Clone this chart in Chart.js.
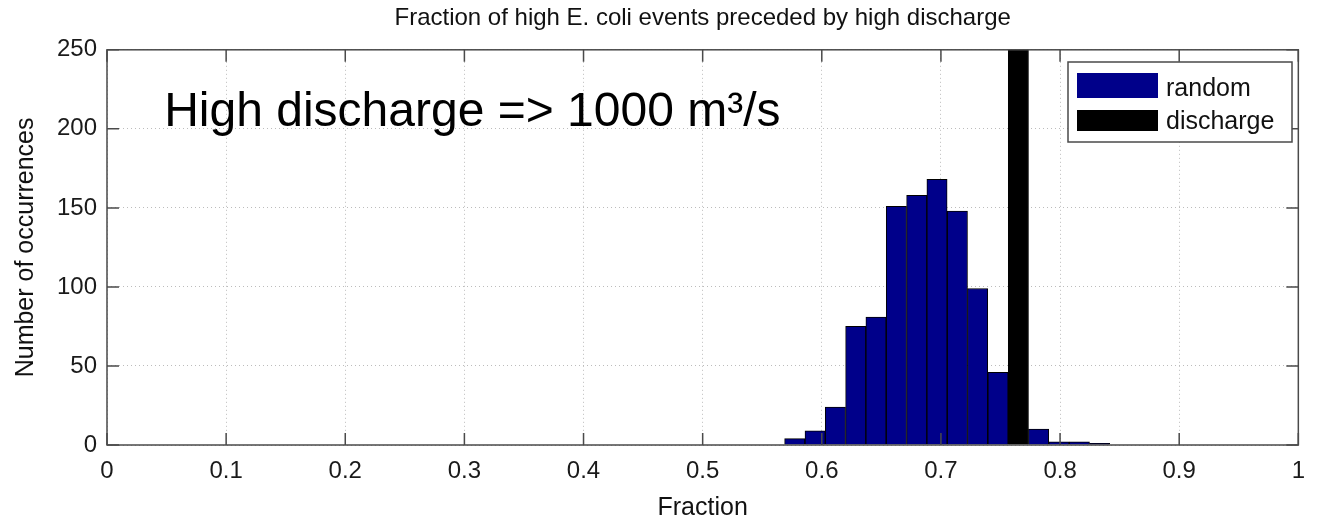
<!DOCTYPE html>
<html>
<head>
<meta charset="utf-8">
<script src="https://cdn.jsdelivr.net/npm/chart.js@4.4.1/dist/chart.umd.min.js"></script>
<style>
	html, body { margin: 0; padding: 0; background: #fff; }
	#wrap { width: 1317px; height: 524px; }
</style>
</head>
<body>
<div id="wrap"><canvas id="histChart" width="1317" height="524"></canvas></div>
<script>
// histogram bins (centre of each bin) and counts of the random runs
const binCenters = [0.5773, 0.5944, 0.6114, 0.6285, 0.6455, 0.6626, 0.6797, 0.6967,
	0.7138, 0.7308, 0.7479, 0.7650, 0.7820, 0.7991, 0.8162, 0.8332];
const randomCounts = [4, 9, 24, 75, 81, 151, 158, 168, 148, 99, 46, null, 10, 2, 2, 1];

// observed fraction for the discharge case (bar runs off the top of the axes)
const dischargeFraction = [0.7650];
const dischargeHeight = [1000];

const xTicks = [0, 0.1, 0.2, 0.3, 0.4, 0.5, 0.6, 0.7, 0.8, 0.9, 1];
const yTicks = [0, 50, 100, 150, 200, 250];

const seriesLabels = ['random', 'discharge'];
const noteText = 'High discharge => 1000 m\u00b3/s';

const FONT = '"Liberation Sans", Arial, Helvetica, sans-serif';

document.addEventListener("DOMContentLoaded", () => {
	initHistChart();
});

// matlab style frame: box, inward ticks, note and boxed legend
const matlabFrame = {
	id: 'matlabFrame',
	afterDraw(chart) {
		const { ctx, chartArea: a, scales } = chart;
		const tick = 12;

		ctx.save();
		ctx.strokeStyle = '#4a4a4a';
		ctx.lineWidth = 1.5;
		ctx.strokeRect(a.left, a.top, a.right - a.left, a.bottom - a.top);

		ctx.beginPath();
		xTicks.forEach(v => {
			const px = scales.x.getPixelForValue(v);
			ctx.moveTo(px, a.bottom); ctx.lineTo(px, a.bottom - tick);
			ctx.moveTo(px, a.top); ctx.lineTo(px, a.top + tick);
		});
		yTicks.forEach(v => {
			const py = scales.y.getPixelForValue(v);
			ctx.moveTo(a.left, py); ctx.lineTo(a.left + tick, py);
			ctx.moveTo(a.right, py); ctx.lineTo(a.right - tick, py);
		});
		ctx.stroke();

		// note inside the axes
		ctx.fillStyle = '#000';
		ctx.font = '48px ' + FONT;
		ctx.textBaseline = 'alphabetic';
		ctx.textAlign = 'left';
		ctx.fillText(noteText, scales.x.getPixelForValue(0.048), scales.y.getPixelForValue(202));

		// legend box, top right
		const lx = 1068, ly = 62, lw = 224, lh = 80;
		ctx.fillStyle = '#fff';
		ctx.fillRect(lx, ly, lw, lh);
		ctx.strokeStyle = '#4a4a4a';
		ctx.lineWidth = 1.5;
		ctx.strokeRect(lx, ly, lw, lh);

		ctx.font = '25px ' + FONT;
		chart.data.datasets.forEach((ds, i) => {
			const sy = i === 0 ? 73 : 110;
			const sh = i === 0 ? 25 : 21;
			ctx.fillStyle = ds.backgroundColor;
			ctx.fillRect(lx + 9, sy, 81, sh);
			ctx.fillStyle = '#111';
			ctx.fillText(ds.label, lx + 98, i === 0 ? 96 : 129);
		});
		ctx.restore();
	}
};

function initHistChart() {
	const ctx = document.getElementById("histChart");

	if (!ctx) return;

	const randomData = [];
	binCenters.forEach((x, i) => {
		if (randomCounts[i] !== null) randomData.push({ x: x, y: randomCounts[i] });
	});
	const dischargeData = dischargeFraction.map((x, i) => ({ x: x, y: dischargeHeight[i] }));

	let chart = new Chart(ctx, {
		type: 'bar',
		data: {
			datasets: [
				{
					label: seriesLabels[0],
					data: randomData,
					backgroundColor: '#00008a',
					borderColor: '#000',
					borderWidth: 1
				},
				{
					label: seriesLabels[1],
					data: dischargeData,
					backgroundColor: '#000',
					borderColor: '#000',
					borderWidth: 1
				}
			]
		},
		options: {
			responsive: false,
			animation: false,
			grouped: false,
			barPercentage: 1,
			categoryPercentage: 1,
			layout: {
				padding: { left: 0, right: 16, top: 0, bottom: 0 }
			},
			plugins: {
				legend: { display: false },
				tooltip: { enabled: false },
				title: {
					display: true,
					fullSize: false,
					text: 'Fraction of high E. coli events preceded by high discharge',
					color: '#111',
					font: { family: FONT, size: 24, weight: 'normal' },
					padding: { top: 4, bottom: 17 }
				}
			},
			scales: {
				x: {
					type: 'linear',
					min: 0,
					max: 1,
					offset: false,
					afterBuildTicks: scale => {
						scale.ticks = xTicks.map(v => ({ value: v }));
					},
					afterFit: scale => { scale.height = 79; },
					ticks: {
						color: '#1a1a1a',
						padding: 12,
						maxRotation: 0,
						font: { family: FONT, size: 24 },
						callback: value => String(Number(value.toFixed(1)))
					},
					grid: {
						color: '#bcbcbc',
						lineWidth: 1,
						drawTicks: false,
						offset: false
					},
					border: { display: false, dash: [1, 3] },
					title: {
						display: true,
						text: 'Fraction',
						color: '#111',
						font: { family: FONT, size: 25 },
						padding: { top: 0, bottom: 1 }
					}
				},
				y: {
					min: 0,
					max: 250,
					afterBuildTicks: scale => {
						scale.ticks = yTicks.map(v => ({ value: v }));
					},
					afterFit: scale => { scale.width = 107; },
					ticks: {
						color: '#1a1a1a',
						padding: 10,
						font: { family: FONT, size: 24 }
					},
					grid: {
						color: '#bcbcbc',
						lineWidth: 1,
						drawTicks: false
					},
					border: { display: false, dash: [1, 3] },
					title: {
						display: true,
						text: 'Number of occurrences',
						color: '#111',
						font: { family: FONT, size: 25 },
						padding: { top: 11, bottom: 0 }
					}
				}
			}
		},
		plugins: [matlabFrame]
	});
	chart;
}
</script>
</body>
</html>
